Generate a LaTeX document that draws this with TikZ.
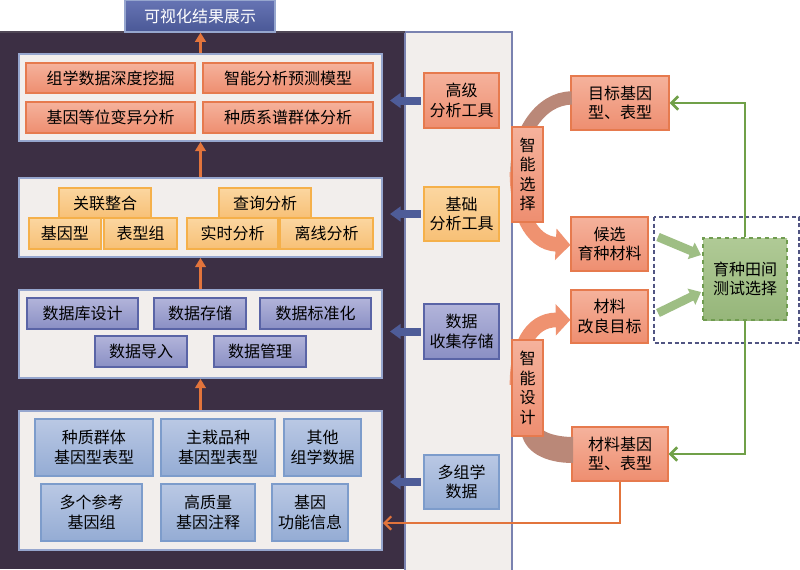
\documentclass[tikz,border=0pt]{standalone}
\usepackage{fontspec}
\setmainfont{Noto Sans CJK SC}
\usetikzlibrary{arrows.meta,fit,calc}
\definecolor{darkbg}{RGB}{60,47,68}
\definecolor{graybg}{RGB}{242,238,236}
\definecolor{grayB}{RGB}{122,130,176}
\definecolor{layerB}{RGB}{150,166,206}
\definecolor{titleT}{RGB}{102,116,180}
\definecolor{titleD}{RGB}{74,88,150}
\definecolor{salT}{RGB}{245,178,156}
\definecolor{salD}{RGB}{238,142,112}
\definecolor{salB}{RGB}{230,122,78}
\definecolor{orT}{RGB}{251,214,160}
\definecolor{orD}{RGB}{247,192,118}
\definecolor{orB}{RGB}{245,176,74}
\definecolor{bpT}{RGB}{178,180,218}
\definecolor{bpD}{RGB}{138,143,196}
\definecolor{bpB}{RGB}{90,100,166}
\definecolor{lbT}{RGB}{186,200,228}
\definecolor{lbD}{RGB}{148,172,212}
\definecolor{lbB}{RGB}{125,156,203}
\definecolor{grT}{RGB}{176,202,150}
\definecolor{grD}{RGB}{150,182,122}
\definecolor{grB}{RGB}{112,156,80}
\definecolor{grLine}{RGB}{112,160,72}
\definecolor{grFat}{RGB}{158,190,132}
\definecolor{orLine}{RGB}{226,116,60}
\definecolor{blArrow}{RGB}{78,92,152}
\definecolor{brownArc}{RGB}{186,136,120}
\definecolor{salArc}{RGB}{239,146,112}
\definecolor{dashB}{RGB}{80,84,130}
\newcommand\bxtext[1]{\raisebox{-4.6pt}[0pt][0pt]{\begin{tabular}{@{}c@{}}#1\end{tabular}}}
\newcommand\bx[7]{\node[#1, fit={(#3,#4)(#5,#6)}, inner sep=0pt] (#2) {\bxtext{#7}};}
\newcommand\bxe[6]{\node[#1, fit={(#3,#4)(#5,#6)}, inner sep=0pt] (#2) {};}
\begin{document}
\begin{tikzpicture}[x=0.75pt,y=-0.75pt,
  font=\fontsize{12pt}{14.6pt}\selectfont,
  box/.style={draw, line width=0.9pt, align=center, text=black},
  salbox/.style={box, draw=salB, top color=salT, bottom color=salD},
  orbox/.style={box, draw=orB, top color=orT, bottom color=orD},
  bpbox/.style={box, draw=bpB, top color=bpT, bottom color=bpD},
  lbbox/.style={box, draw=lbB, top color=lbT, bottom color=lbD},
  grbox/.style={box, draw=grB, dashed, top color=grT, bottom color=grD},
  titlebox/.style={box, draw=layerB, top color=titleT, bottom color=titleD, text=white},
  layerbox/.style={draw=layerB, fill=graybg, line width=1.3pt},
  uparrow/.style={draw=orLine, line width=2.4pt, -{Triangle[width=8pt,length=7pt]}},
  bluearrow/.style={draw=blArrow, line width=6pt, -{Triangle[width=11pt,length=8pt]}},
  arcbrown/.style={draw=brownArc, line width=10pt},
  arcsal/.style={draw=salArc, line width=11pt, -{Triangle[width=23pt,length=11pt]}},
  greenfat/.style={draw=grFat, line width=6.5pt, -{Triangle[width=13pt,length=8pt]}},
  greenline/.style={draw=grLine, line width=2pt, -{Straight Barb[length=5pt,width=10pt]}},
  orangeline/.style={draw=orLine, line width=1.7pt, -{Straight Barb[length=5pt,width=10pt]}},
]
\useasboundingbox (0,0) rectangle (800,569);
% background panels
\fill[white] (0,0) rectangle (800,569);
\fill[darkbg] (0,32) rectangle (405,569);
\draw[grayB, line width=1pt, fill=graybg] (405,32) rectangle (512,571);
\draw[darkbg!70!gray, line width=1pt] (0,32) -- (405,32);
% title
\bx{titlebox}{title}{125}{0}{275}{32}{可视化结果展示}
% layer 1
\bxe{layerbox}{L1}{19}{54}{382}{141}
\bx{salbox}{a1}{26}{63}{195}{93}{组学数据深度挖掘}
\bx{salbox}{a2}{203}{63}{373}{93}{智能分析预测模型}
\bx{salbox}{a3}{26}{102}{195}{133}{基因等位变异分析}
\bx{salbox}{a4}{203}{102}{373}{133}{种质系谱群体分析}
% layer 2
\bxe{layerbox}{L2}{19}{178}{382}{257}
\bx{orbox}{b3}{29}{218}{101}{249}{基因型}
\bx{orbox}{b4}{104}{218}{177}{249}{表型组}
\bx{orbox}{b5}{187}{218}{278}{249}{实时分析}
\bx{orbox}{b6}{280}{218}{373}{249}{离线分析}
\bx{orbox}{b1}{59}{188}{151}{218}{关联整合}
\bx{orbox}{b2}{219}{188}{311}{218}{查询分析}
% layer 3
\bxe{layerbox}{L3}{19}{290}{382}{378}
\bx{bpbox}{c1}{27}{298}{138}{329}{数据库设计}
\bx{bpbox}{c2}{154}{298}{246}{329}{数据存储}
\bx{bpbox}{c3}{260}{298}{371}{329}{数据标准化}
\bx{bpbox}{c4}{95}{336}{187}{367}{数据导入}
\bx{bpbox}{c5}{214}{336}{306}{367}{数据管理}
% layer 4
\bxe{layerbox}{L4}{19}{411}{382}{550}
\bx{lbbox}{d1}{35}{419}{153}{476}{种质群体\\基因型表型}
\bx{lbbox}{d2}{161}{419}{275}{476}{主栽品种\\基因型表型}
\bx{lbbox}{d3}{284}{419}{361}{476}{其他\\组学数据}
\bx{lbbox}{d4}{41}{484}{142}{541}{多个参考\\基因组}
\bx{lbbox}{d5}{161}{484}{255}{541}{高质量\\基因注释}
\bx{lbbox}{d6}{272}{484}{348}{541}{基因\\功能信息}
% arrows between layers
\draw[uparrow] (L4.north) -- (L3.south);
\draw[uparrow] (L3.north) -- (L2.south);
\draw[uparrow] (L2.north) -- (L1.south);
\draw[uparrow] (L1.north) -- (L1.north |- title.south);
% right panel boxes
\bx{salbox}{adv}{424}{73}{499}{128}{高级\\分析工具}
\bx{orbox}{bas}{424}{187}{499}{241}{基础\\分析工具}
\bx{bpbox}{dat}{424}{304}{499}{359}{数据\\收集存储}
\bx{lbbox}{omi}{424}{455}{499}{509}{多组学\\数据}
\coordinate (t1) at (390,100.5);
\coordinate (t2) at (390,214);
\coordinate (t3) at (390,331.5);
\coordinate (t4) at (390,482);
\draw[bluearrow] ([xshift=-2pt]adv.west) -- (t1);
\draw[bluearrow] ([xshift=-2pt]bas.west) -- (t2);
\draw[bluearrow] ([xshift=-2pt]dat.west) -- (t3);
\draw[bluearrow] ([xshift=-2pt]omi.west) -- (t4);
% right side boxes
\bx{salbox}{target}{571}{76}{669}{130}{目标基因\\型、表型}
\bx{salbox}{cand}{571}{217}{648}{271}{候选\\育种材料}
\bx{salbox}{mat}{571}{290}{648}{343}{材料\\改良目标}
\bx{salbox}{matg}{572}{427}{668}{481}{材料基因\\型、表型}
% curved arrows
\coordinate (m1) at (517,172);
\coordinate (m2) at (517,385);
\draw[arcbrown] ([xshift=1pt,yshift=3.75pt]target.west) .. controls (540,98) and (517,135) .. (m1);
\draw[arcsal] (m1) .. controls (517,210) and (530,243) .. ([yshift=-0.75pt]cand.west);
\fill[brownArc] (521,430) .. controls (523,452) and (545,463) .. (573,463)
  -- (573,437) .. controls (560,437) and (548,434) .. (543,430) -- cycle;
\draw[arcsal] (m2) .. controls (517,348) and (530,320) .. ([yshift=-2.5pt]mat.west);
\draw[brownArc, line width=8pt] (518,395) -- (518,432);
\bx{salbox}{zs}{512}{127}{543}{222}{智\\能\\选\\择}
\bx{salbox}{zd}{512}{340}{543}{436}{智\\能\\设\\计}
% field test
\draw[dashB, line width=0.8pt, dash pattern=on 3pt off 2pt] (654,217) rectangle (799,343);
\bx{grbox}{field}{703}{238}{787}{320}{育种田间\\测试选择}
\coordinate (g1a) at (658,237);
\coordinate (g1b) at (701,255);
\coordinate (g2a) at (658,313);
\coordinate (g2b) at (701,292);
\draw[greenfat] (g1a) -- (g1b);
\draw[greenfat] (g2a) -- (g2b);
\draw[greenline] (field.north) |- (target.east);
\draw[greenline] (field.south) |- (matg.east);
% orange feedback line
\coordinate (o1) at (383,523);
\draw[orangeline] (matg.south) |- (o1);
\end{tikzpicture}
\end{document}
